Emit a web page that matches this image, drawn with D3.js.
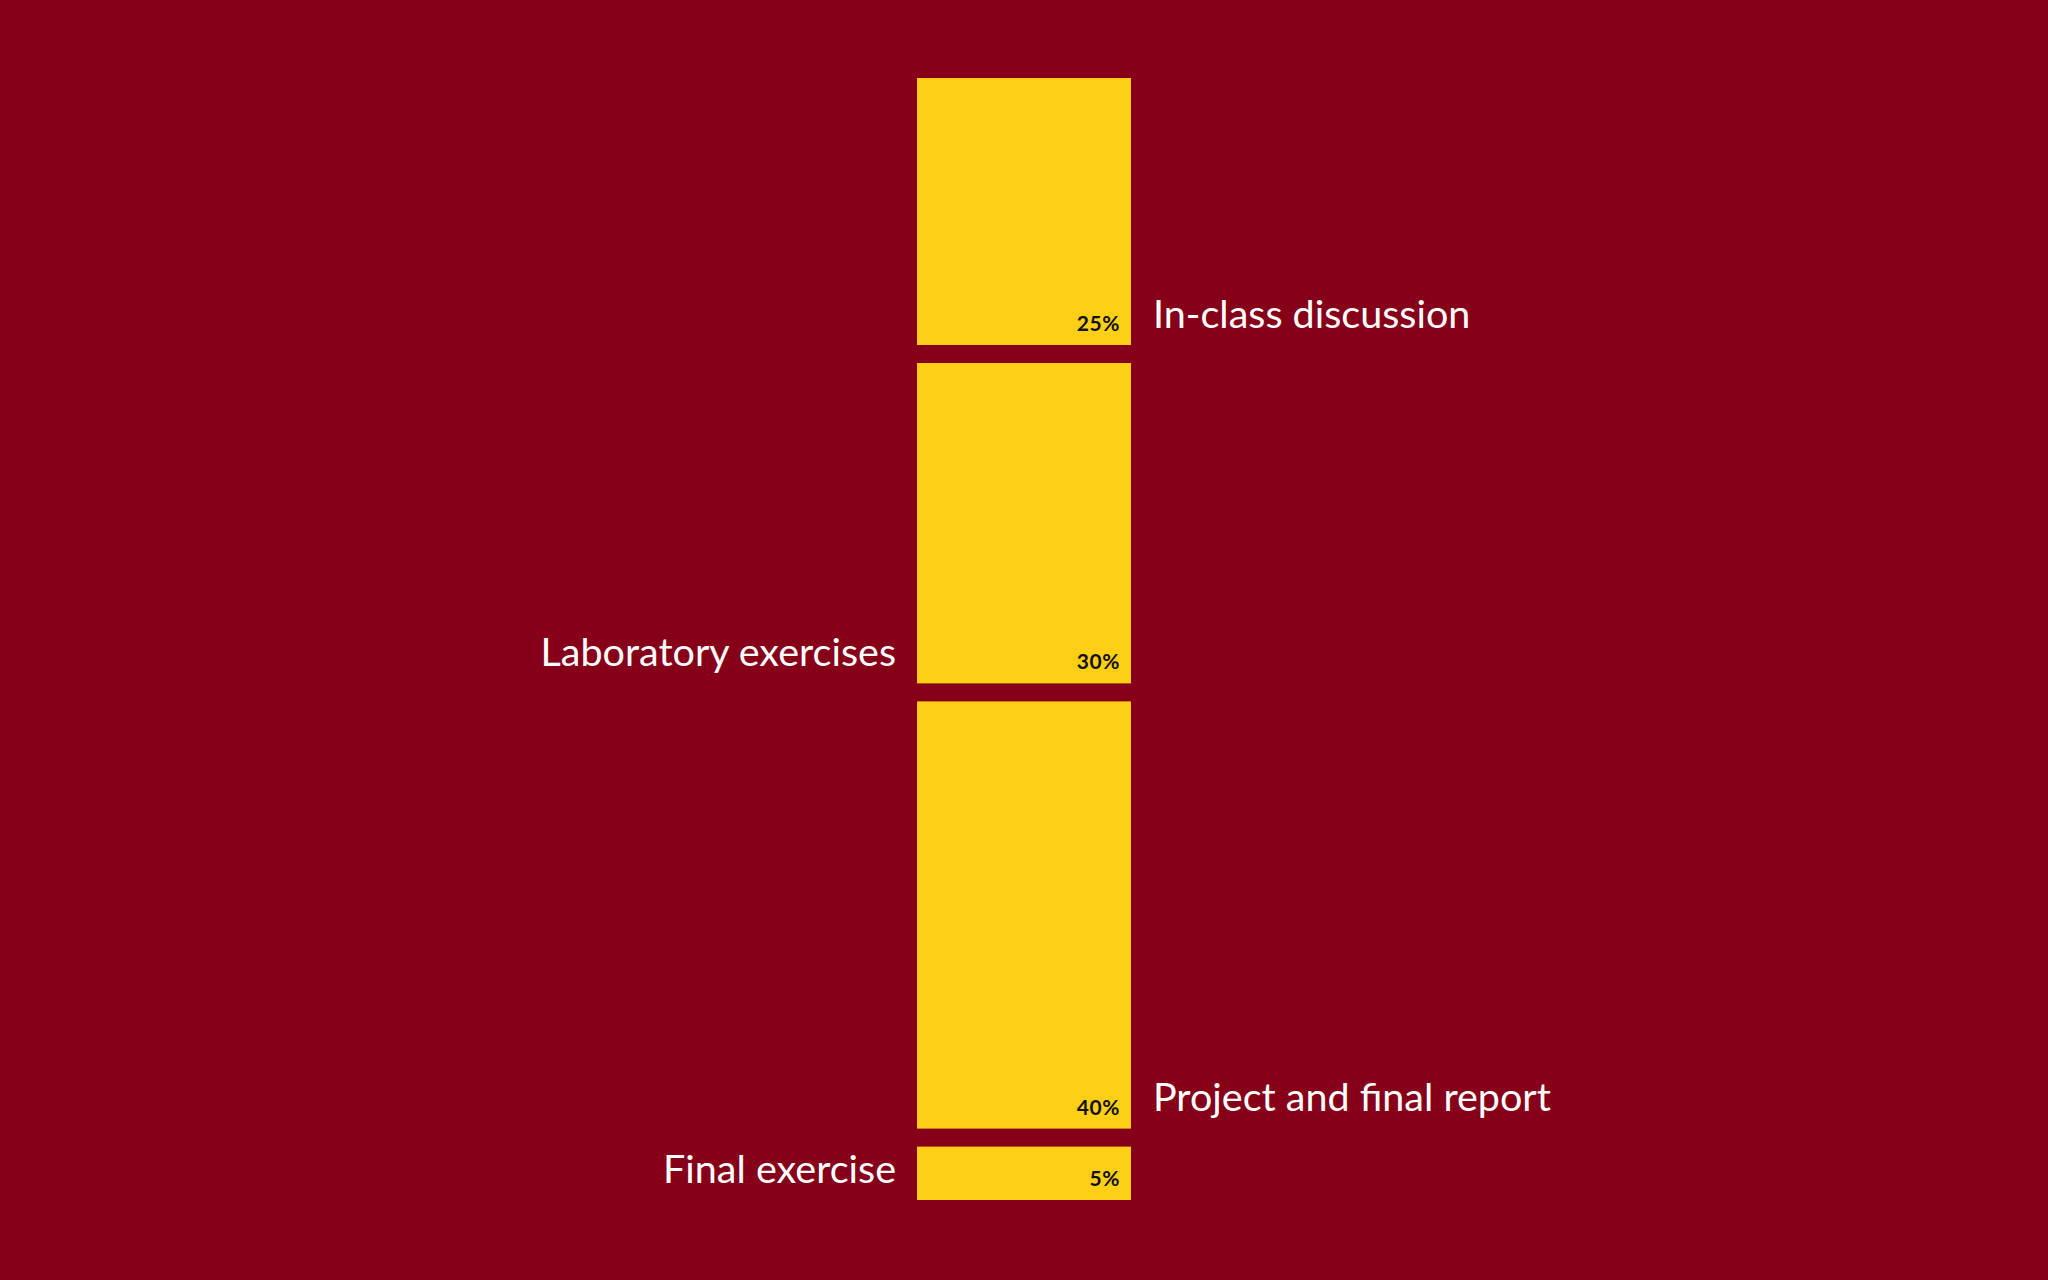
<!DOCTYPE html>
<html lang="en">
<head>
  <meta charset="utf-8">
  <title>Grade breakdown</title>
  <script src="https://cdn.jsdelivr.net/npm/d3@7"></script>
  <style>
    html, body { margin: 0; padding: 0; background: #87001a; }
    svg { display: block; }
    .label { font-family: Lato, "Open Sans", sans-serif; fill: #fff; }
    .pct { font-family: Lato, "Open Sans", sans-serif; font-weight: 700; fill: #111; letter-spacing: 0.6px; }
  </style>
</head>
<body>
  <svg id="chart"></svg>
  <script>
    // data
    var categories = ["In-class discussion", "Laboratory exercises", "Project and final report", "Final exercise"];
    var shares = [25, 30, 40, 5];
    var sides = ["right", "left", "right", "left"];

    var W = 2048, H = 1280;
    var stackTop = 78, stackBottom = 1200, gap = 18;
    var barX = 917, barW = 214;

    var svg = d3.select("#chart").attr("width", W).attr("height", H);
    svg.append("rect").attr("width", W).attr("height", H).attr("fill", "#87001a");

    // height per percent point, leftover after the gaps
    var avail = (stackBottom - stackTop) - gap * (shares.length - 1);
    var y = d3.scaleLinear().domain([0, d3.sum(shares)]).range([0, avail]);

    var rows = [];
    var acc = stackTop;
    shares.forEach(function (v, i) {
      rows.push({ name: categories[i], value: v, side: sides[i], y0: acc, h: y(v) });
      acc += y(v) + gap;
    });

    var g = svg.append("g");

    g.selectAll("rect.bar")
      .data(rows)
      .enter().append("rect")
      .attr("class", "bar")
      .attr("x", barX)
      .attr("y", function (d) { return d.y0; })
      .attr("width", barW)
      .attr("height", function (d) { return d.h; })
      .attr("fill", "#fecf14");

    // percentage, bottom right inside bar
    g.selectAll("text.pct")
      .data(rows)
      .enter().append("text")
      .attr("class", "pct")
      .attr("x", barX + barW - 11)
      .attr("y", function (d) { return d.y0 + d.h - 14; })
      .attr("text-anchor", "end")
      .attr("font-size", 21)
      .text(function (d) { return d.value + "%"; });

    // category labels alternate side
    g.selectAll("text.label")
      .data(rows)
      .enter().append("text")
      .attr("class", "label")
      .attr("x", function (d) { return d.side === "right" ? barX + barW + 22 : barX - 21; })
      .attr("y", function (d) { return d.y0 + d.h - 17.5; })
      .attr("text-anchor", function (d) { return d.side === "right" ? "start" : "end"; })
      .attr("font-size", 39.5)
      .text(function (d) { return d.name; });
  </script>
</body>
</html>
